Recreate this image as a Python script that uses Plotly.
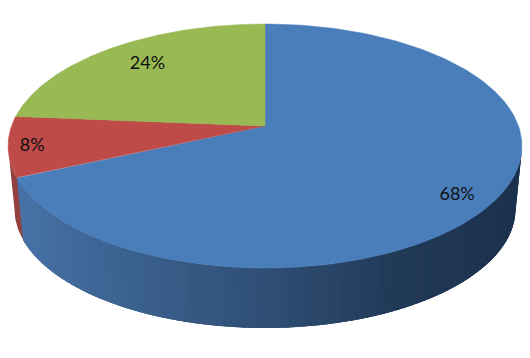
import numpy as np
import plotly.graph_objects as go

categories = ["A", "B", "C"]
shares = [68.3, 8.0, 23.7]
labels = ["68%", "8%", "24%"]
top_colors = ["#4a7ebb", "#be4b48", "#98b954"]
red_side = "#93403e"

# projection of the pie plane (perspective), pixel space
CX, R, C, A, B = 265.0, 253.5, 0.164, -98.07, 126.0
DROP, SHRINK = 63.0, 0.975
SIL_RIGHT = float(np.degrees(np.arccos(-C)))   # rim angle of widest point, right
SIL_LEFT = 360.0 - SIL_RIGHT                   # and left
TEXT_DY = 2.0


def project(theta_deg, r=1.0, bottom=False):
    t = np.radians(theta_deg)
    u, v = r * np.sin(t), r * np.cos(t)
    d = C * v + 1
    x = CX + R * u / d
    y = (A * v + B) / d
    if bottom:
        x = CX + (x - CX) * SHRINK
        y = 146 + (y - 146) * SHRINK + DROP
    return x, y


def lerp_color(t, stops):
    pos = [s[0] for s in stops]
    rgb = [np.interp(t, pos, [s[1][i] for s in stops]) for i in range(3)]
    return "rgb(%d,%d,%d)" % tuple(int(round(c)) for c in rgb)


side_stops = [
    (0.00, (72, 114, 166)),
    (0.16, (62, 101, 148)),
    (0.50, (46, 78, 116)),
    (0.75, (33, 58, 88)),
    (1.00, (27, 50, 78)),
]

total = sum(shares)
edges = np.cumsum([0] + shares) / total * 360.0

fig = go.Figure()


def poly(x, y, color, lw=0.0):
    fig.add_trace(go.Scatter(
        x=x, y=y, mode="lines", fill="toself", fillcolor=color,
        line=dict(color=color, width=lw), hoverinfo="skip", showlegend=False,
    ))


def side(a0, a1, color):
    th = np.linspace(a0, a1, 24)
    xt, yt = project(th)
    xb, yb = project(th[::-1], bottom=True)
    poly(np.r_[xt, xb, xt[0]], np.r_[yt, yb, yt[0]], color, 0.0)


# red wall: from the blue cut round to the widest point of the rim
side(edges[1] - 2, SIL_LEFT, red_side)

# blue wall: narrow strips with a horizontal gradient; strips overlap to hide seams
strip_edges = np.linspace(SIL_RIGHT, edges[1], 90)
for a0, a1 in zip(strip_edges[:-1], strip_edges[1:]):
    xm, _ = project((a0 + a1) / 2)
    t = (xm - 18) / (520 - 18)
    side(a0, min(a1 + 3.0, edges[1]), lerp_color(np.clip(t, 0, 1), side_stops))

# top faces
for i in range(len(shares)):
    th = np.linspace(edges[i], edges[i + 1], 200)
    xr, yr = project(th)
    xc, yc = project(0.0, r=0.0)
    poly(np.r_[xc, xr, xc], np.r_[yc, yr, yc], top_colors[i], 0.5)

# percentage labels, placed on the pie plane
label_radius = [0.868, 0.908, 0.773]
label_nudge = [4.1, 0.0, 1.6]
lx, ly = [], []
for i in range(len(shares)):
    mid = (edges[i] + edges[i + 1]) / 2 + label_nudge[i]
    x, y = project(mid, r=label_radius[i])
    lx.append(float(x))
    ly.append(float(y) + TEXT_DY)
fig.add_trace(go.Scatter(
    x=lx, y=ly, mode="text", text=labels, textposition="middle center",
    textfont=dict(family="Lato, Open Sans, sans-serif", size=18, color="#111111"),
    hoverinfo="skip", showlegend=False,
))

fig.update_layout(
    width=530, height=358, margin=dict(l=0, r=0, t=0, b=0),
    paper_bgcolor="white", plot_bgcolor="white", showlegend=False,
    xaxis=dict(range=[0, 530], visible=False, fixedrange=True),
    yaxis=dict(range=[358, 0], visible=False, fixedrange=True),
)
fig.write_html(
    "out.html",
    config={"displayModeBar": False},
    post_script="document.body.style.margin='0';document.documentElement.style.overflow='hidden';",
)
